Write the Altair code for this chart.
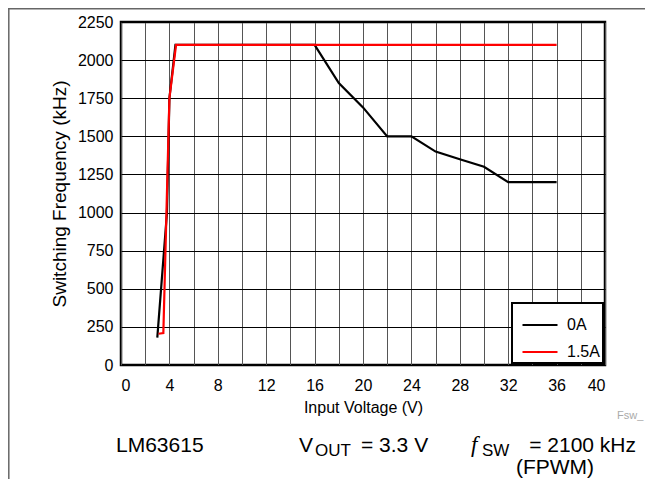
import altair as alt
import pandas as pd

# ---- data ----
vin_0a = [3, 3.8, 4, 4.5, 16, 18, 20, 22, 24, 26, 28, 30, 32, 36]
fsw_0a = [180, 1000, 1750, 2100, 2100, 1850, 1690, 1500, 1500, 1400, 1350, 1300, 1200, 1200]
vin_15a = [3.1, 3.5, 4, 4.55, 36]
fsw_15a = [205, 210, 1750, 2100, 2100]
series_names = ["0A", "1.5A"]
series_colors = ["#000000", "#ff0000"]
x_ticks = list(range(0, 41, 2))
y_ticks = list(range(0, 2251, 250))
x_title = "Input Voltage (V)"
y_title = "Switching Frequency (kHz)"
note_device = "LM63615"
note_vout_main = "V"
note_vout_sub = "OUT"
note_vout_rest = "= 3.3 V"
note_f = "f"
note_f_sub = "SW"
note_f_rest = "= 2100 kHz"
note_mode = "(FPWM)"
note_tag = "Fsw_"

rows = []
for v, f in zip(vin_0a, fsw_0a):
    rows.append({"vin": v, "fsw": f, "load": series_names[0]})
for v, f in zip(vin_15a, fsw_15a):
    rows.append({"vin": v, "fsw": f, "load": series_names[1]})
df = pd.DataFrame(rows)

W, H = 484, 343
FONT = "Liberation Sans"

lines = alt.Chart(df).mark_line(strokeWidth=2.2, clip=True).encode(
    x=alt.X("vin:Q", title=x_title,
            scale=alt.Scale(domain=[0, 40], nice=False),
            axis=alt.Axis(values=x_ticks, format="d",
                          labelExpr="datum.value % 4 == 0 ? datum.label : ''",
                          grid=True, gridColor="#555555", gridWidth=1,
                          ticks=False, domain=False, labelPadding=12,
                          labelFontSize=16, titleFontSize=16, titlePadding=6,
                          labelFont=FONT, titleFont=FONT, titleFontWeight="normal",
                          labelColor="#000", titleColor="#000")),
    y=alt.Y("fsw:Q", title=y_title,
            scale=alt.Scale(domain=[0, 2250], nice=False),
            axis=alt.Axis(values=y_ticks, format="d", grid=True, gridColor="#000000",
                          gridWidth=1, ticks=False, domain=False, labelPadding=8,
                          labelFontSize=16, titleFontSize=19, titlePadding=8,
                          labelFont=FONT, titleFont=FONT, titleFontWeight="normal",
                          labelColor="#000", titleColor="#000")),
    color=alt.Color("load:N",
                    scale=alt.Scale(domain=series_names, range=series_colors),
                    legend=alt.Legend(title=None, orient="bottom-right", offset=2,
                                      symbolType="stroke", symbolSize=1225,
                                      symbolStrokeWidth=2.2, labelFontSize=16,
                                      labelFont=FONT, labelColor="#000",
                                      strokeColor="#000", fillColor="#fff",
                                      padding=3, rowPadding=-15, labelOffset=8,
                                      symbolOffset=6)),
)

one = pd.DataFrame({"k": [0]})

def txt(text, x, y, size=21, align="left", baseline="alphabetic", font=FONT,
        style="normal", color="#000"):
    return alt.Chart(one).mark_text(text=text, fontSize=size, align=align,
                                    baseline=baseline, font=font, fontStyle=style,
                                    color=color).encode(
        x=alt.value(x), y=alt.value(y))

frame_left = alt.Chart(one).mark_rule(color="#666666", strokeWidth=1.5).encode(
    x=alt.value(-112.2), y=alt.value(-13.5), y2=alt.value(H + 114))
frame_top = alt.Chart(one).mark_rule(color="#666666", strokeWidth=1.5).encode(
    x=alt.value(-113), x2=alt.value(W + 40), y=alt.value(-13.2))

notes = [
    txt(note_device, -5, 430),
    txt(note_vout_main, 178, 430),
    txt(note_vout_sub, 194, 434, size=17),
    txt(note_vout_rest, 240, 430),
    txt(note_f, 350, 430, size=23, font="Liberation Serif", style="italic"),
    txt(note_f_sub, 361, 434, size=17),
    txt(note_f_rest, 515, 430, align="right"),
    txt(note_mode, 434, 446, align="center", baseline="middle"),
    txt(note_tag, 496, 394, size=11, baseline="middle", color="#aaaaaa"),
]

chart = alt.layer(lines, frame_left, frame_top, *notes).properties(
    width=W, height=H,
    autosize=alt.AutoSizeParams(type="none"),
    padding={"left": 113, "top": 14, "right": 40, "bottom": 114},
).configure_view(stroke="#000000", strokeWidth=2.5).configure_legend(strokeWidth=2)

chart.save("out.html", embed_options={"renderer": "svg", "actions": False})
